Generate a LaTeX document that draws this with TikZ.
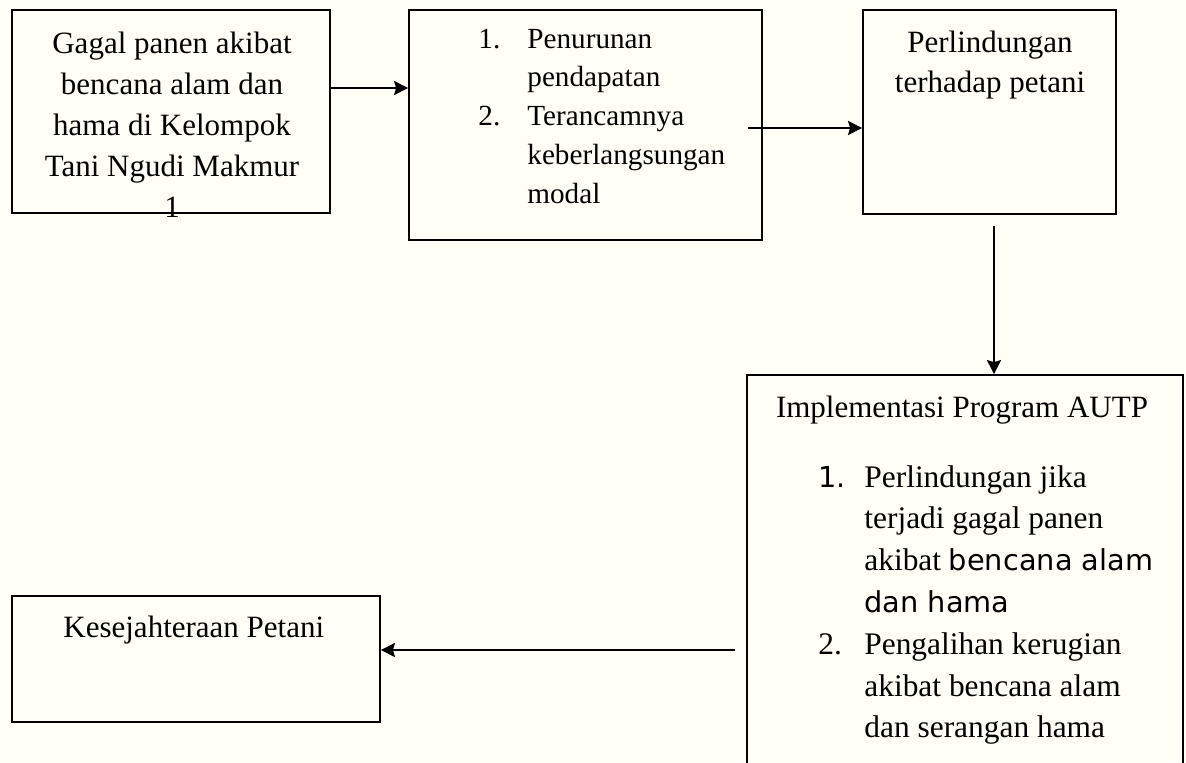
\documentclass[tikz,border=0pt]{standalone}
\usepackage{fontspec}
\setmainfont{Liberation Serif}
\newfontfamily\dejavu{DejaVu Sans}
\usetikzlibrary{arrows.meta,fit}

\begin{document}
\begin{tikzpicture}[x=0.5pt,y=-0.5pt,
    kotak/.style={draw, line width=0.9pt, inner sep=0pt},
    teks/.style={inner sep=0pt, font=\fontsize{15.5pt}{20.5pt}\selectfont},
    panah/.style={-{Stealth[length=7pt,width=7pt,inset=1pt]}, line width=1.2pt}]
    % Latar dan batas gambar
    \useasboundingbox (0,0) rectangle (1186,762);
    \fill[white!97!yellow] (0,0) rectangle (1186,762);
    \clip (0,0) rectangle (1186,762);

    % Kotak 1: gagal panen
    \node[kotak, fit={(12,10) (330,213)}] (gagal) {};
    \node[teks, text width=150pt, align=flush center, anchor=base] (tgagal) at (172,53)
        {Gagal panen akibat\\ bencana alam dan\\ hama di Kelompok\\ Tani Ngudi Makmur\\ 1};

    % Kotak 2: dampak
    \node[kotak, fit={(409,10) (762,240)}] (dampak) {};
    \node[teks, anchor=base west, font=\fontsize{14.6pt}{19.4pt}\selectfont] (tdampak) at (478,48)
        {\begin{tabular}[t]{@{}p{24.5pt}@{}l@{}}
         1. & Penurunan\\ & pendapatan\\
         2. & Terancamnya\\ & keberlangsungan\\ & modal
         \end{tabular}};

    % Kotak 3: perlindungan
    \node[kotak, fit={(863,10) (1116,214)}] (lindung) {};
    \node[teks, text width=120pt, align=flush center, anchor=base, font=\fontsize{15.5pt}{20pt}\selectfont] (tlindung) at (990,52)
        {Perlindungan\\ terhadap petani};

    % Kotak 4: program AUTP (terpotong di kanan bawah)
    \node[kotak, fit={(747,375) (1183,800)}] (program) {};
    \node[teks, anchor=base] (tjudul) at (962,417) {Implementasi Program AUTP};
    \node[teks, anchor=base west, font=\fontsize{15.7pt}{20.9pt}\selectfont] (tprogram) at (818,487)
        {\begin{tabular}[t]{@{}p{23pt}@{}l@{}}
         {\dejavu\fontsize{14.4pt}{20.9pt}\selectfont 1.} & Perlindungan jika\\
         & terjadi gagal panen\\
         & akibat {\dejavu\fontsize{14.4pt}{20.9pt}\selectfont bencana alam}\\
         & {\dejavu\fontsize{14.4pt}{20.9pt}\selectfont dan hama}\\
         2. & Pengalihan kerugian\\
         & akibat bencana alam\\
         & dan serangan hama
         \end{tabular}};

    % Kotak 5: kesejahteraan
    \node[kotak, fit={(12,596) (380,722)}] (sejahtera) {};
    \node[teks, anchor=base west] (tsejahtera) at (63,637) {Kesejahteraan Petani};

    % Panah
    \coordinate (p1) at (330,88);
    \coordinate (p2) at (748,128);
    \coordinate (p3) at (994,226);
    \coordinate (p4) at (735,650);
    \draw[panah] (gagal.east |- p1) -- (dampak.west |- p1);
    \draw[panah] (p2) -- (lindung.west |- p2);
    \draw[panah] (p3) -- (p3 |- program.north);
    \draw[panah] (p4) -- (sejahtera.east |- p4);
\end{tikzpicture}
\end{document}
